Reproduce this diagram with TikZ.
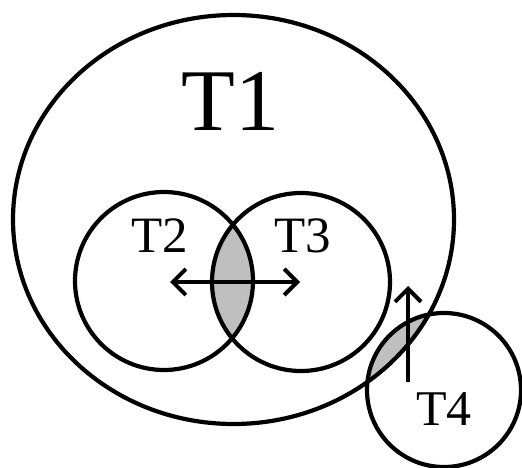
\documentclass[tikz,border=0pt]{standalone}
\usepackage{fontspec}
\setmainfont{Liberation Serif}
\usetikzlibrary{arrows.meta}

\begin{document}
\begin{tikzpicture}[
  x=1pt, y=-1pt,
  ring/.style={draw, line width=4.2pt},
  overlap/.style={fill=gray!50},
  lbl/.style={anchor=base, inner sep=0pt},
  barb/.style={line width=4pt, arrows={-{Straight Barb[length=13pt, width=26pt]}}},
  dblbarb/.style={line width=4pt, arrows={{Straight Barb[length=13pt, width=26pt]}-{Straight Barb[length=13pt, width=26pt]}}}
]
\useasboundingbox (0,0) rectangle (522,468);

\coordinate (c1) at (233.5,219.5);
\coordinate (c2) at (164,281);
\coordinate (c3) at (301,282);
\coordinate (c4) at (444,390);

\begin{scope}
  \clip (c2) circle (89pt);
  \fill[overlap] (c3) circle (89pt);
\end{scope}
\begin{scope}
  \clip (c1) ellipse [x radius=220.5pt, y radius=204.5pt];
  \fill[overlap] (c4) circle (77pt);
\end{scope}

\draw[ring] (c1) ellipse [x radius=220.5pt, y radius=204.5pt];
\draw[ring] (c2) circle (89pt);
\draw[ring] (c3) circle (89pt);
\draw[ring] (c4) circle (77pt);

\node[lbl, font=\fontsize{88}{88}\selectfont] (T1) at (230.5,131) {T1};
\node[lbl, font=\fontsize{51}{51}\selectfont] (T2) at (160,252) {T2};
\node[lbl, font=\fontsize{51}{51}\selectfont] (T3) at (302.5,252) {T3};
\node[lbl, font=\fontsize{50}{50}\selectfont] (T4) at (444,425) {T4};

\coordinate (lefttip) at (170,282);
\coordinate (righttip) at (300,282);
\coordinate (upfoot) at (408,382);
\coordinate (uptip) at (408,286);

\draw[dblbarb] (lefttip) -- (righttip);
\draw[barb] (upfoot) -- (uptip);
\end{tikzpicture}
\end{document}
